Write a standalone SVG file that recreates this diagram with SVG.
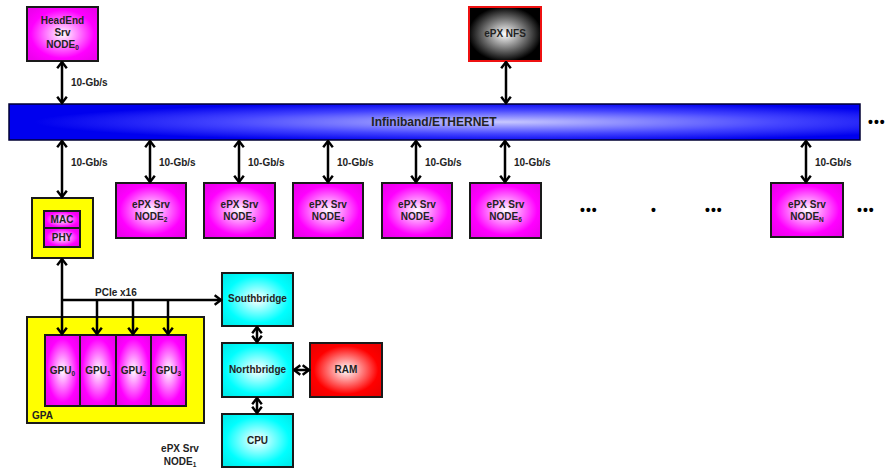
<svg xmlns="http://www.w3.org/2000/svg" width="889" height="470" viewBox="0 0 889 470">
  <defs>
    <radialGradient id="gMag" cx="50%" cy="50%" r="62%">
      <stop offset="0" stop-color="#ffffff"/>
      <stop offset="0.72" stop-color="#ff00ff"/>
      <stop offset="1" stop-color="#ee00ee"/>
    </radialGradient>
    <radialGradient id="gCyan" cx="50%" cy="50%" r="62%">
      <stop offset="0" stop-color="#ffffff"/>
      <stop offset="0.72" stop-color="#00ffff"/>
      <stop offset="1" stop-color="#00eeee"/>
    </radialGradient>
    <radialGradient id="gRed" cx="50%" cy="50%" r="62%">
      <stop offset="0" stop-color="#ffffff"/>
      <stop offset="0.72" stop-color="#ff0000"/>
      <stop offset="1" stop-color="#ee0000"/>
    </radialGradient>
    <radialGradient id="gNfs" cx="50%" cy="50%" r="60%">
      <stop offset="0" stop-color="#ffffff"/>
      <stop offset="0.85" stop-color="#000000"/>
      <stop offset="1" stop-color="#000000"/>
    </radialGradient>
    <radialGradient id="gBus" cx="58%" cy="50%" r="55%">
      <stop offset="0" stop-color="#c8c8ff"/>
      <stop offset="0.6" stop-color="#4444ff"/>
      <stop offset="1" stop-color="#0000ee"/>
    </radialGradient>
    <marker id="arr" viewBox="0 0 9 12" refX="7.5" refY="6" markerWidth="9" markerHeight="12" markerUnits="userSpaceOnUse" orient="auto-start-reverse">
      <path d="M1.2,1.2 L7.5,6 L1.2,10.8" fill="none" stroke="#000" stroke-width="2.4" stroke-linejoin="miter"/>
    </marker>
    <style>
      .box { stroke: #1a1a1a; stroke-width: 2; }
      .mag { fill: url(#gMag); }
      .cyan { fill: url(#gCyan); }
      .yel { fill: #ffff00; }
      .lbl { font-family: "Liberation Sans", Arial, sans-serif; font-weight: bold; font-size: 10px; fill: #222; text-anchor: middle; }
      .rate { font-family: "Liberation Sans", Arial, sans-serif; font-weight: bold; font-size: 10px; fill: #222; }
      .sub { font-size: 6.5px; }
      .dots { font-family: "Liberation Sans", Arial, sans-serif; font-weight: bold; font-size: 14px; fill: #000; letter-spacing: 1px; }
      .link { fill: none; stroke: #000; stroke-width: 2.5; }
    </style>
  </defs>

  <rect width="889" height="470" fill="#ffffff"/>

  <g id="headend">
    <rect class="box mag" x="27" y="7" width="71" height="54"/>
    <text class="lbl" x="62.5" y="24">HeadEnd</text>
    <text class="lbl" x="62.5" y="36">Srv</text>
    <text class="lbl" x="62.5" y="48">NODE<tspan class="sub" dy="2">0</tspan></text>
  </g>

  <g id="nfs">
    <rect x="469" y="7" width="72" height="54" fill="url(#gNfs)" stroke="#ee1111" stroke-width="2"/>
    <text class="lbl" x="505" y="37">ePX NFS</text>
  </g>

  <g id="bus">
    <rect x="9" y="104" width="851" height="36" fill="url(#gBus)" stroke="#000033" stroke-width="1.5"/>
    <text class="lbl" x="434" y="126" style="font-size:12px">Infiniband/ETHERNET</text>
  </g>

  <g id="node2">
    <rect class="box mag" x="116" y="183" width="70" height="55"/>
    <text class="lbl" x="151" y="208">ePX Srv</text>
    <text class="lbl" x="151" y="220">NODE<tspan class="sub" dy="2">2</tspan></text>
  </g>
  <g id="node3">
    <rect class="box mag" x="204" y="183" width="71" height="55"/>
    <text class="lbl" x="239.5" y="208">ePX Srv</text>
    <text class="lbl" x="239.5" y="220">NODE<tspan class="sub" dy="2">3</tspan></text>
  </g>
  <g id="node4">
    <rect class="box mag" x="293" y="183" width="70" height="55"/>
    <text class="lbl" x="328" y="208">ePX Srv</text>
    <text class="lbl" x="328" y="220">NODE<tspan class="sub" dy="2">4</tspan></text>
  </g>
  <g id="node5">
    <rect class="box mag" x="382" y="183" width="70" height="55"/>
    <text class="lbl" x="417" y="208">ePX Srv</text>
    <text class="lbl" x="417" y="220">NODE<tspan class="sub" dy="2">5</tspan></text>
  </g>
  <g id="node6">
    <rect class="box mag" x="470" y="183" width="71" height="55"/>
    <text class="lbl" x="505.5" y="208">ePX Srv</text>
    <text class="lbl" x="505.5" y="220">NODE<tspan class="sub" dy="2">6</tspan></text>
  </g>
  <g id="nodeN">
    <rect class="box mag" x="771" y="183" width="72" height="54"/>
    <text class="lbl" x="807" y="208">ePX Srv</text>
    <text class="lbl" x="807" y="220">NODE<tspan class="sub" dy="2">N</tspan></text>
  </g>

  <!-- ellipses for omitted nodes -->
  <g id="ellipses">
    <text class="dots" x="580" y="215">•••</text>
    <text class="dots" x="651" y="215">•</text>
    <text class="dots" x="705" y="215">•••</text>
    <text class="dots" x="857" y="215">•••</text>
    <text class="dots" x="868" y="127">•••</text>
  </g>

  <g id="nic">
    <rect class="box yel" x="32" y="198" width="61" height="60"/>
    <rect class="box mag" x="44" y="211" width="36" height="17"/>
    <text class="lbl" x="62" y="223">MAC</text>
    <rect class="box mag" x="44" y="228" width="36" height="19"/>
    <text class="lbl" x="62" y="241">PHY</text>
  </g>

  <g id="gpa">
    <rect class="box yel" x="27" y="317" width="177" height="106"/>
    <text class="rate" x="32" y="419">GPA</text>
    <rect class="box mag" x="45" y="335" width="35" height="71"/>
    <text class="lbl" x="62.5" y="374">GPU<tspan class="sub" dy="2">0</tspan></text>
    <rect class="box mag" x="80" y="335" width="36" height="71"/>
    <text class="lbl" x="98" y="374">GPU<tspan class="sub" dy="2">1</tspan></text>
    <rect class="box mag" x="116" y="335" width="35" height="71"/>
    <text class="lbl" x="133.5" y="374">GPU<tspan class="sub" dy="2">2</tspan></text>
    <rect class="box mag" x="151" y="335" width="35" height="71"/>
    <text class="lbl" x="168.5" y="374">GPU<tspan class="sub" dy="2">3</tspan></text>
  </g>

  <g id="southbridge">
    <rect class="box cyan" x="222" y="273" width="71" height="53"/>
    <text class="lbl" x="257.5" y="302">Southbridge</text>
  </g>
  <g id="northbridge">
    <rect class="box cyan" x="222" y="343" width="71" height="54"/>
    <text class="lbl" x="257.5" y="373">Northbridge</text>
  </g>
  <g id="cpu">
    <rect class="box cyan" x="222" y="414" width="71" height="53"/>
    <text class="lbl" x="257.5" y="444">CPU</text>
  </g>
  <g id="ram">
    <rect class="box" x="310" y="343" width="72" height="54" fill="url(#gRed)"/>
    <text class="lbl" x="346" y="373">RAM</text>
  </g>

  <g id="node1-caption">
    <text class="lbl" x="180" y="452">ePX Srv</text>
    <text class="lbl" x="180" y="465">NODE<tspan class="sub" dy="2">1</tspan></text>
  </g>

  <!-- connectors, drawn last so they sit over the GPA frame -->
  <g id="connectors">
    <line class="link" x1="62" y1="62" x2="62" y2="103" marker-start="url(#arr)" marker-end="url(#arr)"/>
    <line class="link" x1="506" y1="62" x2="506" y2="103" marker-start="url(#arr)" marker-end="url(#arr)"/>
    <line class="link" x1="62" y1="141" x2="62" y2="197" marker-start="url(#arr)" marker-end="url(#arr)"/>
    <line class="link" x1="150" y1="141" x2="150" y2="182" marker-start="url(#arr)" marker-end="url(#arr)"/>
    <line class="link" x1="239" y1="141" x2="239" y2="182" marker-start="url(#arr)" marker-end="url(#arr)"/>
    <line class="link" x1="328" y1="141" x2="328" y2="182" marker-start="url(#arr)" marker-end="url(#arr)"/>
    <line class="link" x1="416" y1="141" x2="416" y2="182" marker-start="url(#arr)" marker-end="url(#arr)"/>
    <line class="link" x1="505" y1="141" x2="505" y2="182" marker-start="url(#arr)" marker-end="url(#arr)"/>
    <line class="link" x1="806" y1="141" x2="806" y2="182" marker-start="url(#arr)" marker-end="url(#arr)"/>
    <!-- PCIe x16 fabric -->
    <line class="link" x1="62" y1="259" x2="62" y2="334" marker-start="url(#arr)" marker-end="url(#arr)"/>
    <line class="link" x1="62" y1="300" x2="221" y2="300" marker-end="url(#arr)"/>
    <line class="link" x1="97" y1="300" x2="97" y2="334" marker-end="url(#arr)"/>
    <line class="link" x1="133" y1="300" x2="133" y2="334" marker-end="url(#arr)"/>
    <line class="link" x1="168" y1="300" x2="168" y2="334" marker-end="url(#arr)"/>
    <!-- chipset -->
    <line class="link" x1="257" y1="327" x2="257" y2="342" marker-start="url(#arr)" marker-end="url(#arr)"/>
    <line class="link" x1="257" y1="398" x2="257" y2="413" marker-start="url(#arr)" marker-end="url(#arr)"/>
    <line class="link" x1="294" y1="370" x2="309" y2="370" marker-start="url(#arr)" marker-end="url(#arr)"/>
  </g>

  <!-- link rate labels -->
  <g id="rates">
    <text class="rate" x="71" y="86">10-Gb/s</text>
    <text class="rate" x="71" y="166">10-Gb/s</text>
    <text class="rate" x="159" y="166">10-Gb/s</text>
    <text class="rate" x="248" y="166">10-Gb/s</text>
    <text class="rate" x="337" y="166">10-Gb/s</text>
    <text class="rate" x="425" y="166">10-Gb/s</text>
    <text class="rate" x="514" y="166">10-Gb/s</text>
    <text class="rate" x="815" y="166">10-Gb/s</text>
    <text class="rate" x="95" y="296">PCIe x16</text>
  </g>
</svg>
